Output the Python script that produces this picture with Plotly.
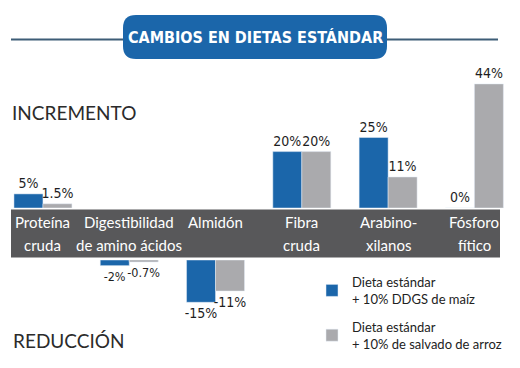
import plotly.graph_objects as go

# ---- data ----
categories = ["Proteína cruda", "Digestibilidad de amino ácidos", "Almidón",
              "Fibra cruda", "Arabino-xilanos", "Fósforo fítico"]
label_line1 = ["Proteína", "Digestibilidad", "Almidón", "Fibra", "Arabino-", "Fósforo"]
label_line2 = ["cruda", "de amino ácidos", "", "cruda", "xilanos", "fítico"]
ddgs_maiz = [5, -2, -15, 20, 25, 0]
salvado_arroz = [1.5, -0.7, -11, 20, 11, 44]
series_names = ["Dieta estándar<br>+ 10% DDGS de maíz",
                "Dieta estándar<br>+ 10% de salvado de arroz"]
title_text = "CAMBIOS EN DIETAS ESTÁNDAR"
up_label = "INCREMENTO"
down_label = "REDUCCIÓN"

# ---- style ----
W, H = 520, 368
BLUE = "#1b66aa"
GRAY = "#aaaaad"
BAND = "#58585a"
NUM_FONT = "DejaVu Sans Condensed, Liberation Sans Narrow, sans-serif"
TXT_FONT = "Lato, Noto Sans, sans-serif"
NUM_SIZE = 14
TIGHT_SIZE = 12.5
tight_categories = {"Digestibilidad de amino ácidos"}
label_sizes = [TIGHT_SIZE if c in tight_categories else NUM_SIZE for c in categories]


def px(x):
    return x / W


def py(y):
    return 1 - y / H


def fmt(v):
    return f"{v:g}%"


def pos(vals):
    return [v if v >= 0 else None for v in vals]


def neg(vals):
    return [v if v < 0 else None for v in vals]


def txt(vals, keep):
    return [fmt(v) if keep(v) else "" for v in vals]


fig = go.Figure()
for vals, name, color in [(ddgs_maiz, series_names[0], BLUE),
                          (salvado_arroz, series_names[1], GRAY)]:
    fig.add_trace(go.Bar(x=categories, y=pos(vals), name=name, marker_color=color,
                         text=txt(vals, lambda v: v >= 0), textposition="outside",
                         constraintext="none",
                         textfont=dict(family=NUM_FONT, size=label_sizes, color="#1e1e1e"),
                         cliponaxis=False, xaxis="x", yaxis="y", legendgroup=name,
                         hoverinfo="skip"))
for vals, name, color in [(ddgs_maiz, series_names[0], BLUE),
                          (salvado_arroz, series_names[1], GRAY)]:
    fig.add_trace(go.Bar(x=categories, y=neg(vals), name=name, marker_color=color,
                         text=txt(vals, lambda v: v < 0), textposition="outside",
                         constraintext="none",
                         textfont=dict(family=NUM_FONT, size=label_sizes, color="#1e1e1e"),
                         cliponaxis=False, xaxis="x2", yaxis="y2", legendgroup=name,
                         showlegend=False, hoverinfo="skip"))

# axis geometry
SCALE = 2.82            # px per percentage point
cat_step = 86.29
first_center = 42.95
r0 = -first_center / cat_step
r1 = r0 + W / cat_step
top_base, top_top = 208, 70
bot_base, bot_bot = 260, 320

hidden = dict(showgrid=False, zeroline=False, showticklabels=False, showline=False,
              ticks="")
fig.update_layout(
    width=W, height=H, margin=dict(l=0, r=0, t=0, b=0),
    paper_bgcolor="white", plot_bgcolor="rgba(0,0,0,0)",
    barmode="group", bargap=0.328, bargroupgap=0,
    xaxis=dict(domain=[0, 1], range=[r0, r1], anchor="y", **hidden),
    xaxis2=dict(domain=[0, 1], range=[r0, r1], anchor="y2", matches="x", **hidden),
    yaxis=dict(domain=[py(top_base), py(top_top)],
               range=[0, (top_base - top_top) / SCALE], anchor="x", **hidden),
    yaxis2=dict(domain=[py(bot_bot), py(bot_base)],
                range=[-(bot_bot - bot_base) / SCALE, 0], anchor="x2", **hidden),
    showlegend=True,
    legend=dict(x=px(312), y=py(267), xanchor="left", yanchor="top",
                font=dict(family=TXT_FONT, size=13, color="#222222"),
                bgcolor="rgba(0,0,0,0)", tracegroupgap=8, traceorder="grouped"),
)


def rounded_rect(x0, y0, x1, y1, r):
    rx, ry = r / W, r / H
    X0, X1 = px(x0), px(x1)
    Yt, Yb = py(y0), py(y1)
    return (f"M {X0+rx},{Yt} L {X1-rx},{Yt} Q {X1},{Yt} {X1},{Yt-ry} "
            f"L {X1},{Yb+ry} Q {X1},{Yb} {X1-rx},{Yb} L {X0+rx},{Yb} "
            f"Q {X0},{Yb} {X0},{Yb+ry} L {X0},{Yt-ry} Q {X0},{Yt} {X0+rx},{Yt} Z")


shapes = [
    dict(type="line", xref="paper", yref="paper", x0=px(11), x1=px(498),
         y0=py(39.5), y1=py(39.5), line=dict(color="#3d5d77", width=2), layer="below"),
    dict(type="path", xref="paper", yref="paper", path=rounded_rect(123, 15, 387, 59, 13),
         fillcolor=BLUE, line=dict(width=0), layer="below"),
    dict(type="rect", xref="paper", yref="paper", x0=px(11), x1=px(500),
         y0=py(257.5), y1=py(209.5), fillcolor=BAND, line=dict(width=0), layer="below"),
]
fig.update_layout(shapes=shapes)

annotations = [
    dict(text="<b>" + title_text + "</b>", x=px(255), y=py(37), xref="paper", yref="paper",
         showarrow=False, xanchor="center", yanchor="middle",
         font=dict(family=NUM_FONT, size=16, color="white")),
    dict(text=up_label, x=px(10), y=py(113), xref="paper", yref="paper",
         showarrow=False, xanchor="left", yanchor="middle",
         font=dict(family=TXT_FONT, size=19, color="#2b2b2b")),
    dict(text=down_label, x=px(11), y=py(340), xref="paper", yref="paper",
         showarrow=False, xanchor="left", yanchor="middle",
         font=dict(family=TXT_FONT, size=19, color="#2b2b2b")),
]
for cat, l1, l2 in zip(categories, label_line1, label_line2):
    for line, ypos in [(l1, 222), (l2, 245)]:
        if line:
            annotations.append(dict(text=line, x=cat, xref="x", y=py(ypos), yref="paper",
                                    showarrow=False, xanchor="center", yanchor="middle",
                                    font=dict(family=TXT_FONT, size=15, color="white")))
fig.update_layout(annotations=annotations)

fig.write_html("out.html", config={"displayModeBar": False},
               post_script="document.body.style.margin='0';")
